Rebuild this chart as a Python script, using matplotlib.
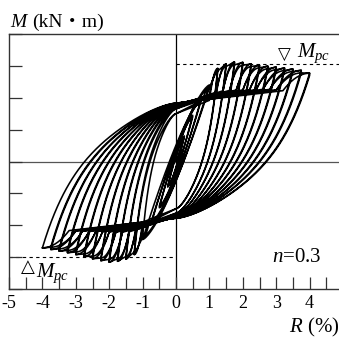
import numpy as np
import matplotlib
matplotlib.use('Agg')
import matplotlib.pyplot as plt
from matplotlib.ticker import FixedLocator

plt.rcParams['font.family'] = ['Liberation Serif', 'Noto Sans CJK JP', 'DejaVu Sans']
plt.rcParams['mathtext.fontset'] = 'custom'
plt.rcParams['mathtext.rm'] = 'Liberation Serif'
plt.rcParams['mathtext.it'] = 'Liberation Serif:italic'

# drift amplitude of each load step (%), two cycles per step
drift_amp = [0.25, 0.5, 0.75, 1.0, 1.25, 1.5, 1.75, 2.0, 2.25, 2.5, 2.75, 3.0, 3.25, 3.5, 3.75, 4.0]
# peak moments (kN*m), 1st and 2nd cycle
m_pos_1 = [80, 145, 195, 240, 292, 306, 312, 311, 306, 302, 299, 296, 293, 290, 286, 277]
m_pos_2 = [78, 140, 190, 232, 284, 298, 303, 302, 298, 294, 291, 288, 285, 282, 278, 270]
m_neg_1 = [-80, -145, -198, -245, -292, -306, -313, -316, -311, -305, -298, -292, -286, -281, -276, -271]
m_neg_2 = [-78, -140, -192, -238, -284, -298, -305, -307, -303, -297, -290, -284, -279, -274, -269, -264]
# moment where reloading crosses R = 0 (pinching), 0 = elastic small cycle
pinch_pos = [0, 0, 0, 0, 150, 165, 172, 176, 178, 180, 180, 181, 181, 182, 182, 183]
pinch_neg = [0, 0, 0, 0, -148, -162, -168, -172, -174, -175, -175, -176, -176, -177, -177, -178]
m_pc = [305, -300]


def unload_shape(u):
    return 0.35 * (1 - (1 - u) ** 6) + 0.65 * (1 - (1 - u) ** 1.5)


def half_branch(r0, m0, r1, m1, pinch, r_prev, m_prev):
    # work mirrored so the branch always runs towards +R
    s = 1 if r1 > 0 else -1
    x0, y0, x1, y1 = s * r0, s * m0, s * r1, s * m1
    if pinch == 0:
        u = np.linspace(0, 1, 60)
        x = x0 + u * (x1 - x0)
        y = y0 + (y1 - y0) * (1 - (1 - u) ** 1.4)
        return s * x, s * y
    pk = s * pinch
    rp = s * r_prev
    mp = s * m_prev
    u = np.linspace(0, 1, 90)
    xa = x0 + u * (0 - x0)
    ya = y0 + (pk - y0) * unload_shape(u)
    q = 0.8 * rp
    mq = pk + (0.25 + 0.05 * rp) * (y1 - pk)
    xb = np.linspace(0, q, 30)
    yb = pk + (mq - pk) * xb / q
    u = np.linspace(0, 1, 30)
    xc = q + u * (rp - q)
    yc = mq + (mp - mq) * (1 - (1 - u) ** 2)
    x = [xa, xb, xc]
    y = [ya, yb, yc]
    if x1 > rp + 1e-9:
        xd = np.linspace(rp, x1, 20)
        yd = mp + (y1 - mp) * (xd - rp) / (x1 - rp)
        x.append(xd)
        y.append(yd)
    return s * np.concatenate(x), s * np.concatenate(y)


R_all = [np.array([0.0, drift_amp[0]])]
M_all = [np.array([0.0, m_pos_1[0]])]
r_cur, m_cur = drift_amp[0], m_pos_1[0]
prev_pos = (drift_amp[0], m_pos_1[0])
prev_neg = (0.0, 0.0)
first = True
for i, a in enumerate(drift_amp):
    for pos_m, neg_m in ((m_pos_1[i], m_neg_1[i]), (m_pos_2[i], m_neg_2[i])):
        if not first:
            rr, mm = half_branch(r_cur, m_cur, a, pos_m, pinch_pos[i], prev_pos[0], prev_pos[1])
            R_all.append(rr)
            M_all.append(mm)
            prev_pos = (a, pos_m)
            r_cur, m_cur = a, pos_m
        first = False
        if prev_neg[0] == 0.0:
            prev_neg = (-a * 0.8, neg_m * 0.8)
        rr, mm = half_branch(r_cur, m_cur, -a, neg_m, pinch_neg[i], prev_neg[0], prev_neg[1])
        R_all.append(rr)
        M_all.append(mm)
        prev_neg = (-a, neg_m)
        r_cur, m_cur = -a, neg_m

R = np.concatenate(R_all)
M = np.concatenate(M_all)

fig = plt.figure(figsize=(3.39, 3.38), dpi=100)
ax = fig.add_axes([9 / 339, 49 / 338, 334 / 339, 255 / 338])
ax.set_xlim(-5, 5)
ax.set_ylim(-400, 400)

ax.axhline(0, color='#555555', lw=0.9, zorder=1)
ax.axvline(0, color='black', lw=0.9, zorder=1)
ax.plot([0, 5], [m_pc[0], m_pc[0]], color='black', lw=0.8, ls=(0, (3, 3)), zorder=1)
ax.plot([-5, 0], [m_pc[1], m_pc[1]], color='black', lw=0.8, ls=(0, (3, 3)), zorder=1)
ax.plot(R, M, color='black', lw=1.15, zorder=2)

for side in ['top', 'left', 'bottom']:
    ax.spines[side].set_color('#333333')
    ax.spines[side].set_linewidth(1.0)
ax.spines['right'].set_visible(False)

x_major = [-5, -4, -3, -2, -1, 0, 1, 2, 3, 4, 5]
x_labels = ['-5', '-4', '-3', '-2', '-1', '0', '1', '2', '3', '4', '5']
ax.xaxis.set_major_locator(FixedLocator(x_major))
ax.set_xticklabels(x_labels)
ax.xaxis.set_minor_locator(FixedLocator([v + 0.5 for v in x_major[:-1]]))
y_major = [-400, -300, -200, -100, 0, 100, 200, 300, 400]
ax.yaxis.set_major_locator(FixedLocator(y_major))
ax.set_yticklabels([str(v) for v in y_major])
ax.tick_params(axis='x', which='both', direction='in', length=8.5, width=0.9,
               color='#333333', labelsize=13, pad=4.5, top=False)
ax.tick_params(axis='y', which='major', direction='in', length=9.5, width=0.9,
               color='#333333', labelsize=13, pad=7.5, right=False)

fig.text(10 / 339, 1 - 27 / 338, 'M', fontsize=14, va='baseline', style='italic')
fig.text(32 / 339, 1 - 27 / 338, '(kN・m)', fontsize=14, va='baseline')
fig.text(339 / 339, 1 - 332 / 338, '$R$ (%)', fontsize=15, va='baseline', ha='right')
fig.text(272 / 339, 1 - 262 / 338, '$n$=0.3', fontsize=15, va='baseline')
fig.text(284 / 339, 1 - 55 / 338, '▽', fontsize=12, ha='center', va='center', family='DejaVu Sans')
fig.text(297 / 339, 1 - 57 / 338, '$M_{pc}$', fontsize=15, va='baseline')
fig.text(28 / 339, 1 - 267 / 338, '△', fontsize=13, ha='center', va='center', family='DejaVu Sans')
fig.text(36 / 339, 1 - 277 / 338, '$M_{pc}$', fontsize=15, va='baseline')

fig.savefig('out.png', dpi=100)
